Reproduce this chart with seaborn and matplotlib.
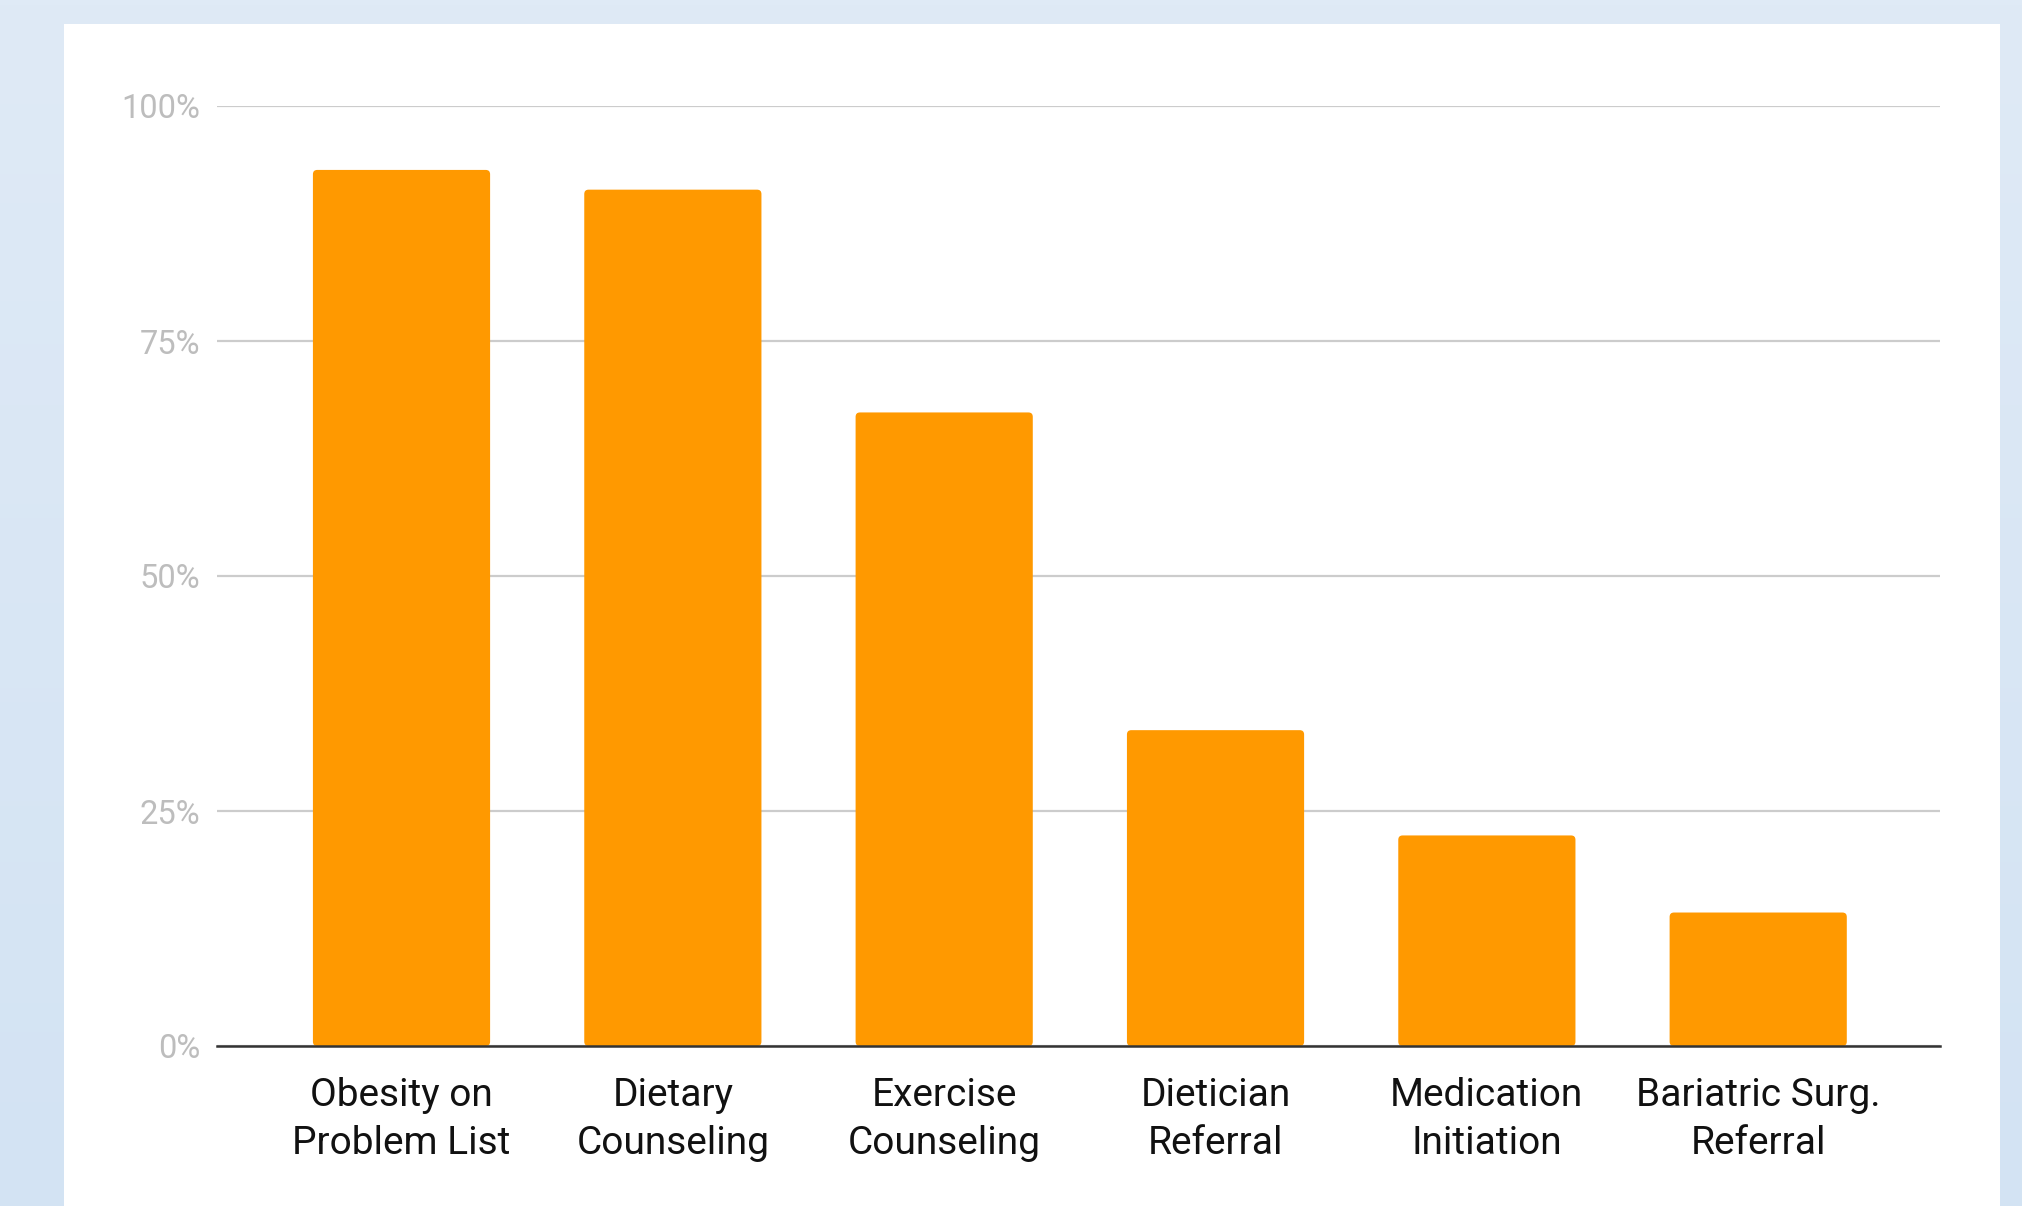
import matplotlib
matplotlib.use("Agg")
import matplotlib.pyplot as plt
import matplotlib.patches as mpatches
from matplotlib.colors import LinearSegmentedColormap
import numpy as np
import pandas as pd
import seaborn as sns

# data
categories = ["Obesity on\nProblem List", "Dietary\nCounseling", "Exercise\nCounseling",
              "Dietician\nReferral", "Medication\nInitiation", "Bariatric Surg.\nReferral"]
rates = [0.932, 0.911, 0.674, 0.336, 0.224, 0.142]
y_ticks = [0, 0.25, 0.5, 0.75, 1.0]
y_labels = ["0%", "25%", "50%", "75%", "100%"]

df = pd.DataFrame({"measure": categories, "rate": rates})

sns.set_style("white")
plt.rcParams["font.family"] = ["Roboto", "DejaVu Sans"]

W, H = 2022, 1206
fig = plt.figure(figsize=(W / 100, H / 100), dpi=100)

# soft blue gradient page background + white card
bg = fig.add_axes([0, 0, 1, 1], zorder=-20)
bg_cmap = LinearSegmentedColormap.from_list("page", ["#dfeaf6", "#d3e3f3"])
bg.imshow(np.linspace(0, 1, 256).reshape(-1, 1), aspect="auto", cmap=bg_cmap,
          extent=[0, 1, 0, 1], origin="upper")
bg.add_patch(mpatches.Rectangle((64 / W, 0), (2000 - 64) / W, (H - 24) / H,
                                facecolor="white", edgecolor="none"))
bg.set_xlim(0, 1)
bg.set_ylim(0, 1)
bg.axis("off")

ax = fig.add_axes([217 / W, 1 - 1046 / H, (1940 - 217) / W, (1046 - 106) / H])
ax.set_facecolor("none")

sns.barplot(data=df, x="measure", y="rate", color="#ff9900", saturation=1,
            width=0.653, ax=ax, zorder=3)

# rounded top corners
for p in list(ax.patches):
    x0, y0 = p.get_x(), p.get_y()
    w, h = p.get_width(), p.get_height()
    rb = mpatches.FancyBboxPatch((x0, y0), w, h,
                                 boxstyle="round,pad=0,rounding_size=0.016",
                                 mutation_aspect=0.29, facecolor="#ff9900",
                                 edgecolor="none", zorder=3)
    p.remove()
    ax.add_patch(rb)

ax.set_xlim(-0.68, 5.67)
ax.set_ylim(0, 1)
ax.set_yticks(y_ticks)
ax.set_yticklabels(y_labels)
ax.set_xlabel("")
ax.set_ylabel("")

ax.yaxis.grid(True, color="#cccccc", linewidth=1.6, zorder=1)
ax.set_axisbelow(True)
for s in ["top", "right", "left"]:
    ax.spines[s].set_visible(False)
ax.spines["bottom"].set_color("#333333")
ax.spines["bottom"].set_linewidth(1.8)
ax.spines["bottom"].set_zorder(4)

ax.tick_params(axis="y", length=0, pad=12, labelsize=23.5, labelcolor="#bdbdbd")
ax.tick_params(axis="x", length=0, pad=22, labelsize=28, labelcolor="#111111")
for t in ax.get_xticklabels():
    t.set_linespacing(1.38)

fig.savefig("out.png", dpi=100)
